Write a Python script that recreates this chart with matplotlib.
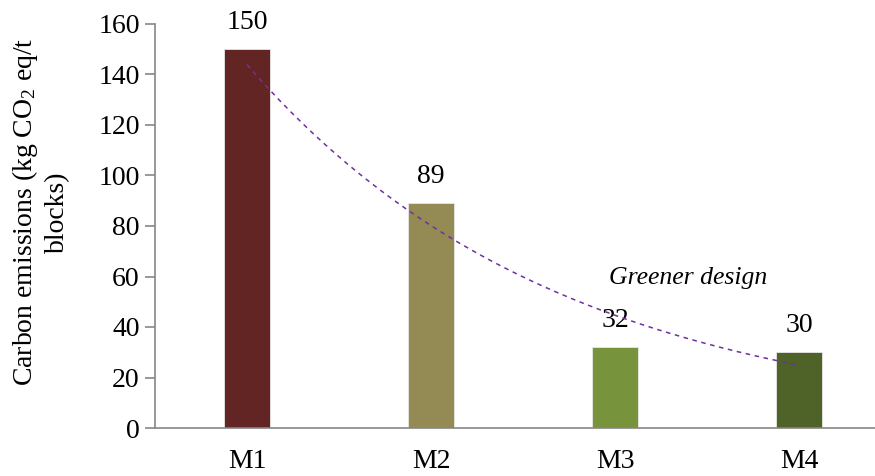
import numpy as np
import matplotlib
matplotlib.use("Agg")
import matplotlib.pyplot as plt

plt.rcParams['font.family'] = ['Liberation Serif', 'DejaVu Serif']
plt.rcParams['mathtext.fontset'] = 'custom'
plt.rcParams['mathtext.rm'] = 'Liberation Serif'
plt.rcParams['mathtext.it'] = 'Liberation Serif:italic'

mixes = ["M1", "M2", "M3", "M4"]
emissions = [150, 89, 32, 30]
bar_colors = ["#632523", "#948A54", "#77933C", "#4F6228"]

fig = plt.figure(figsize=(8.75, 4.76), dpi=100)
ax = fig.add_axes([155 / 875, 48 / 476, 736 / 875, 404 / 476])

x = np.arange(len(mixes))
ax.bar(x, emissions, width=0.25, color=bar_colors, edgecolor="#e8e8e8", linewidth=0.6, zorder=2)

for xi, v in zip(x, emissions):
    ax.annotate(str(v), (xi, v), xytext=(0, 10), textcoords="offset points",
                ha="center", va="bottom", fontsize=20)

# exponential trendline fitted on the bar values
xs = np.arange(1, len(emissions) + 1)
b, a = np.polyfit(xs, np.log(emissions), 1)
xf = np.linspace(1, len(emissions), 200)
ax.plot(xf - 1, np.exp(a + b * xf), color="#7030A0", linestyle=(0, (3, 3)), linewidth=1.1, zorder=3)

ax.text(2.4, 59.5, "Greener design", style="italic", fontsize=18.5, ha="center", va="center")

ax.set_xlim(-0.5, 3.5)
ax.set_ylim(0, 160)
ax.set_yticks(range(0, 161, 20))
ax.set_xticks(x)
ax.set_xticklabels(mixes)
ax.tick_params(axis="y", length=7, width=1.2, color="#868686", labelsize=20, pad=4)
ax.tick_params(axis="x", length=0, labelsize=20, pad=15)
for s in ["top", "right"]:
    ax.spines[s].set_visible(False)
for s in ["left", "bottom"]:
    ax.spines[s].set_color("#868686")
    ax.spines[s].set_linewidth(1.2)

fig.text(40 / 875, 1 - 212 / 476, "Carbon emissions (kg CO$_2$ eq/t\nblocks)", fontsize=20,
         rotation=90, ha="center", va="center", multialignment="center", linespacing=1.25)

fig.savefig("out.png", dpi=100)
